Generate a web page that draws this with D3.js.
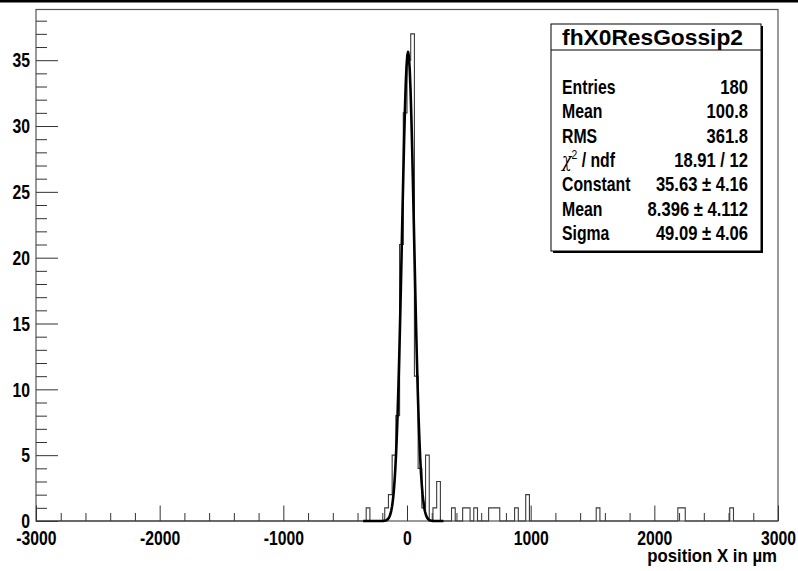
<!DOCTYPE html>
<html>
<head>
<meta charset="utf-8">
<script src="https://cdn.jsdelivr.net/npm/d3@7"></script>
<style>
  html, body { margin: 0; padding: 0; background: #fff; }
  svg { display: block; }
  text { font-family: "Liberation Sans", Arial, Helvetica, sans-serif; font-weight: bold; fill: #000; }
</style>
</head>
<body>
<svg id="chart" width="798" height="571"></svg>
<script>
// ---------------- data ----------------
const histName = "fhX0ResGossip2";
const xDomain = [-3000, 3000];
const binWidth = 30;
// low edges of the non-empty bins and their contents
const binLow   = [-330, -180, -150, -120, -90, -60, -30,  0, 30, 60, 90, 120, 150, 210, 240,
                   360, 450, 480, 540, 660, 690, 720, 870, 960, 1530, 2190, 2220, 2610];
const binCount = [   1,    1,    2,    5,   8,  21,  31, 35, 37, 11,  4,   1,   5,   1,   3,
                     1,   1,   1,   1,   1,   1,   1,   1,   2,    1,    1,    1,    1];
// gaussian fit
const fitConstant = 35.63, fitMean = 8.396, fitSigma = 49.09;
const fitRange = [-355, 295];
// axis ticks
const xMajorTicks = [-3000, -2000, -1000, 0, 1000, 2000, 3000];
const yMajorTicks = [0, 5, 10, 15, 20, 25, 30, 35];
const yMax = 38.85;
const xTitle = "position X in µm";
// stats box rows
const statLabels = ["Entries", "Mean", "RMS", "chi2", "Constant", "Mean", "Sigma"];
const statValues = ["180", "100.8", "361.8", "18.91 / 12", "35.63 ± 4.16", "8.396 ± 4.112", "49.09 ± 4.06"];

// ---------------- layout ----------------
const svg = d3.select("#chart");
const L = 36, R = 778, T = 9.5, B = 521;
const x = d3.scaleLinear().domain(xDomain).range([L, R]);
const y = d3.scaleLinear().domain([0, yMax]).range([B, T]);

svg.append("rect").attr("x", 0).attr("y", 0).attr("width", 798).attr("height", 571).attr("fill", "#fff");
svg.append("rect").attr("x", 0).attr("y", 0).attr("width", 798).attr("height", 2.5).attr("fill", "#000");

// frame
svg.append("rect").attr("x", L).attr("y", T).attr("width", R - L).attr("height", B - T)
  .attr("fill", "none").attr("stroke", "#555").attr("stroke-width", 1.2);

// minor ticks
const xMinor = d3.range(xDomain[0], xDomain[1] + 1, 200).filter(v => v % 1000 !== 0);
const yMinor = d3.range(0, yMax, 1).filter(v => v % 5 !== 0);

svg.append("g").attr("transform", `translate(0,${B})`)
  .call(d3.axisBottom(x).tickValues(xMinor).tickSizeInner(-8).tickSizeOuter(0).tickFormat(""))
  .call(g => g.select(".domain").remove());
svg.append("g").attr("transform", `translate(${L},0)`)
  .call(d3.axisLeft(y).tickValues(yMinor).tickSizeInner(-11).tickSizeOuter(0).tickFormat(""))
  .call(g => g.select(".domain").remove());

// major axes
const LABEL_SCALE = 0.75;
const xAxis = svg.append("g").attr("transform", `translate(0,${B})`)
  .call(d3.axisBottom(x).tickValues(xMajorTicks).tickSizeInner(-15.5).tickSizeOuter(0).tickPadding(8)
        .tickFormat(d => String(d)))
  .call(g => g.select(".domain").remove());
const yAxis = svg.append("g").attr("transform", `translate(${L},0)`)
  .call(d3.axisLeft(y).tickValues(yMajorTicks).tickSizeInner(-22).tickSizeOuter(0).tickPadding(6)
        .tickFormat(d => String(d)))
  .call(g => g.select(".domain").remove());

svg.selectAll(".tick line").attr("stroke", "#333").attr("stroke-width", 1);

[xAxis, yAxis].forEach(a => a.selectAll(".tick text")
  .attr("font-size", 21).attr("font-family", "Liberation Sans, Arial, sans-serif")
  .attr("font-weight", "bold").attr("fill", "#000"));
xAxis.selectAll(".tick text").attr("dy", "0.72em").attr("y", 9)
  .attr("transform", `scale(${LABEL_SCALE},1)`);
yAxis.selectAll(".tick text").attr("x", -6 / LABEL_SCALE)
  .attr("transform", `scale(${LABEL_SCALE},1)`);

// narrow text horizontally (condensed look of the reference) via a transform
function placeScaled(t, px, py, k) {
  t.attr("x", 0).attr("y", 0).attr("transform", `translate(${px},${py}) scale(${k},1)`);
}

// axis title
const xt = svg.append("text").attr("text-anchor", "end").attr("font-size", 19).text(xTitle);
placeScaled(xt, 777, 562, 130 / xt.node().getComputedTextLength());

// ---------------- histogram ----------------
const nBins = Math.round((xDomain[1] - xDomain[0]) / binWidth);
const contents = new Array(nBins).fill(0);
binLow.forEach((lo, i) => { contents[Math.round((lo - xDomain[0]) / binWidth)] = binCount[i]; });
const histPts = contents.map((c, i) => [xDomain[0] + i * binWidth, c]);
histPts.push([xDomain[1], 0]);
const stepLine = d3.line().x(d => x(d[0])).y(d => y(d[1])).curve(d3.curveStepAfter);
svg.append("path").attr("d", stepLine(histPts))
  .attr("fill", "none").attr("stroke", "#3a3a3a").attr("stroke-width", 1.1);

// ---------------- gaussian fit ----------------
const gaus = v => fitConstant * Math.exp(-0.5 * Math.pow((v - fitMean) / fitSigma, 2));
const fitPts = d3.range(0, 101).map(i => {
  const v = fitRange[0] + (fitRange[1] - fitRange[0]) * i / 100;
  return [v, gaus(v)];
});
svg.append("path").attr("d", d3.line().x(d => x(d[0])).y(d => y(d[1]))(fitPts))
  .attr("fill", "none").attr("stroke", "#000").attr("stroke-width", 2.6).attr("stroke-linejoin", "round");

// ---------------- stats box ----------------
const bx = 551, by = 24, bw = 210, bh = 227;
svg.append("rect").attr("x", bx + 2).attr("y", by + 2).attr("width", bw).attr("height", bh).attr("fill", "#000");
svg.append("rect").attr("x", bx).attr("y", by).attr("width", bw).attr("height", bh)
  .attr("fill", "#fff").attr("stroke", "#000").attr("stroke-width", 1);
svg.append("line").attr("x1", bx).attr("x2", bx + bw).attr("y1", 50).attr("y2", 50)
  .attr("stroke", "#000").attr("stroke-width", 1);
const title = svg.append("text").attr("text-anchor", "middle").attr("font-size", 22).text(histName);
placeScaled(title, 652.5, 45, 181 / title.node().getComputedTextLength());

const rowY = i => 94 + 24.3 * i;
const K = 0.79;
statLabels.forEach((lab, i) => {
  const t = svg.append("text").attr("font-size", 20);
  if (lab === "chi2") {
    t.append("tspan").attr("font-weight", "normal").attr("font-family", "DejaVu Serif, serif")
      .attr("font-style", "italic").text("χ");
    t.append("tspan").attr("font-size", 13).attr("dy", -8).attr("font-weight", "normal").text("2");
    t.append("tspan").attr("dy", 8).text(" / ndf");
  } else {
    t.text(lab);
  }
  placeScaled(t, 562, rowY(i), K);
});
statValues.forEach((val, i) => {
  const t = svg.append("text").attr("font-size", 20).attr("text-anchor", "end").text(val);
  placeScaled(t, 748, rowY(i), K + 0.04);
});
</script>
</body>
</html>
